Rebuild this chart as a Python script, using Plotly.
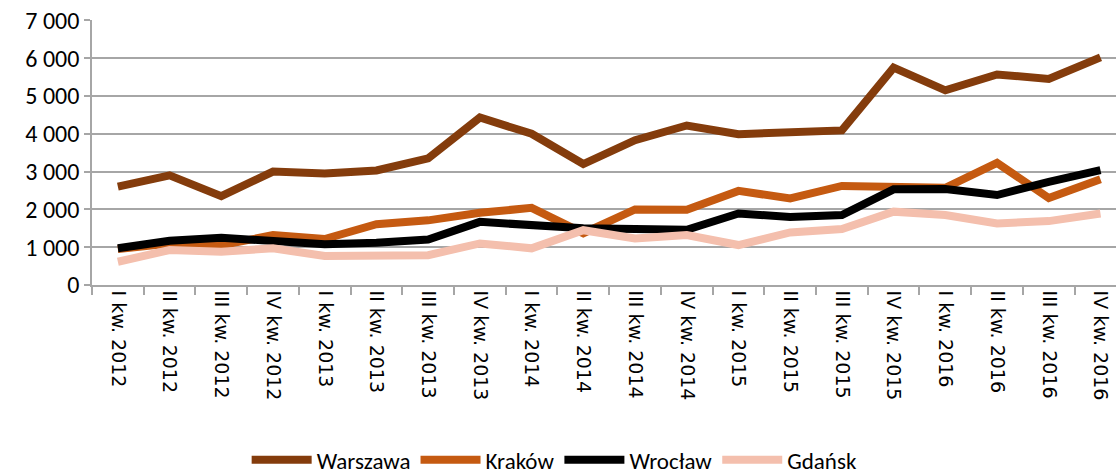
import plotly.graph_objects as go

categories = [
    "I kw. 2012", "II kw. 2012", "III kw. 2012", "IV kw. 2012",
    "I kw. 2013", "II kw. 2013", "III kw. 2013", "IV kw. 2013",
    "I kw. 2014", "II kw. 2014", "III kw. 2014", "IV kw. 2014",
    "I kw. 2015", "II kw. 2015", "III kw. 2015", "IV kw. 2015",
    "I kw. 2016", "II kw. 2016", "III kw. 2016", "IV kw. 2016",
]
warszawa = [2600, 2900, 2350, 3000, 2950, 3030, 3350, 4430, 4000, 3200,
            3830, 4220, 3990, 4040, 4090, 5750, 5150, 5570, 5450, 6020]
krakow = [950, 1100, 1050, 1320, 1215, 1610, 1710, 1910, 2040, 1370,
          2000, 1990, 2490, 2290, 2620, 2580, 2570, 3230, 2300, 2800]
wroclaw = [970, 1170, 1250, 1145, 1080, 1120, 1205, 1670, 1560, 1500,
           1480, 1460, 1890, 1800, 1850, 2530, 2540, 2380, 2730, 3040]
gdansk = [615, 925, 880, 970, 765, 790, 790, 1100, 970, 1450,
          1230, 1320, 1057, 1390, 1480, 1940, 1850, 1630, 1690, 1890]

series = [
    ("Warszawa", warszawa, "#843C0C"),
    ("Kraków", krakow, "#C55A11"),
    ("Wrocław", wroclaw, "#000000"),
    ("Gdańsk", gdansk, "#F4BFAD"),
]

fig = go.Figure()
for name, vals, color in series:
    fig.add_trace(go.Scatter(
        x=categories, y=vals, name=name, mode="lines",
        line=dict(color=color, width=8),
    ))

fig.update_layout(
    width=1116, height=474,
    margin=dict(l=92, r=0, t=20, b=189),
    plot_bgcolor="white", paper_bgcolor="white",
    separators=", ",
    font=dict(family="Carlito, Lato, sans-serif", size=20, color="black"),
    showlegend=True,
    legend=dict(
        orientation="h", xref="container", yref="container",
        x=0.497, xanchor="center", y=0.03, yanchor="middle",
        font=dict(family="Liberation Sans Narrow, Carlito, Lato, sans-serif", size=23),
        itemwidth=60, traceorder="normal",
    ),
)
fig.update_xaxes(
    type="category", range=[-0.5, 19.3], automargin=False,
    tickangle=90, tickson="boundaries", ticks="outside", ticklen=8,
    tickcolor="#A6A6A6", tickwidth=1.5,
    showline=True, linecolor="#A6A6A6", linewidth=1.5,
    showgrid=False,
    tickfont=dict(family="DejaVu Sans, sans-serif", size=19),
)
fig.update_yaxes(
    range=[0, 7010], tickvals=[0, 1000, 2000, 3000, 4000, 5000, 6000, 7000],
    tickformat=",d", automargin=False, ticklabeloverflow="allow",
    showgrid=True, gridcolor="#A6A6A6", gridwidth=1.5,
    ticks="outside", ticklen=6, tickcolor="#A6A6A6", tickwidth=1.5,
    showline=True, linecolor="#A6A6A6", linewidth=1.5,
    zeroline=False,
    tickfont=dict(size=24),
)

fig.write_html("out.html", config={"displayModeBar": False},
               post_script="document.body.style.margin='0';")
